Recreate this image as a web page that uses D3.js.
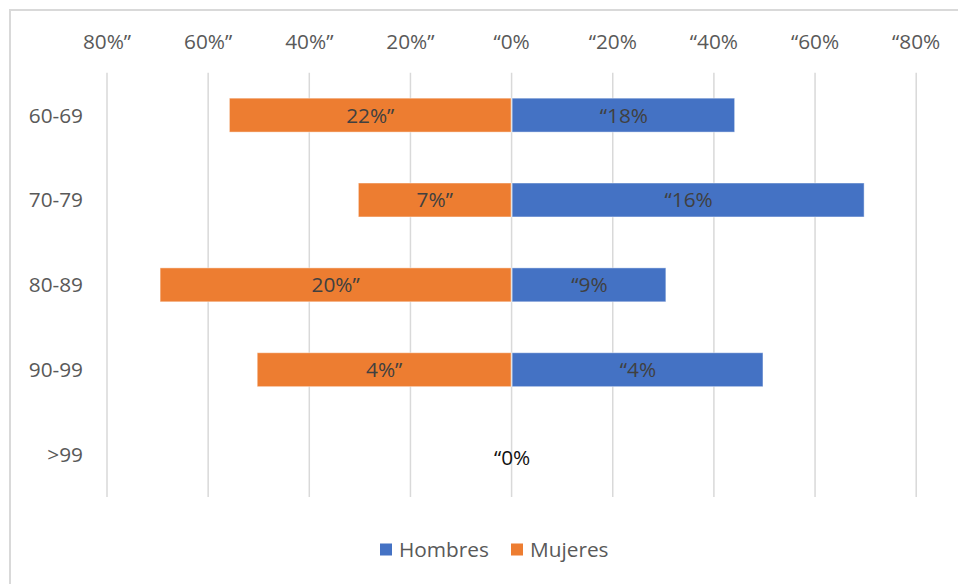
<!DOCTYPE html>
<html>
<head>
<meta charset="utf-8">
<script src="https://cdn.jsdelivr.net/npm/d3@7"></script>
<style>
  html, body { margin: 0; padding: 0; background: #fff; }
  svg { display: block; font-family: "Open Sans", "Segoe UI", sans-serif; }
</style>
</head>
<body>
<svg id="chart" width="958" height="584"></svg>
<script>
// ---- data ----
const categories = ["60-69", "70-79", "80-89", "90-99", ">99"];
const hombres = [44.2, 69.8, 30.6, 49.8, 0];
const mujeres = [55.7, 30.2, 69.4, 50.2, 0];
const hombresLabels = ["\u201C18%", "\u201C16%", "\u201C9%", "\u201C4%", "\u201C0%"];
const mujeresLabels = ["22%\u201D", "7%\u201D", "20%\u201D", "4%\u201D", ""];
const tickValues = [-80, -60, -40, -20, 0, 20, 40, 60, 80];
const tickLabels = ["80%\u201D", "60%\u201D", "40%\u201D", "20%\u201D", "\u201C0%", "\u201C20%", "\u201C40%", "\u201C60%", "\u201C80%"];
const seriesNames = ["Hombres", "Mujeres"];
const seriesColors = ["#4472C4", "#ED7D31"];

// ---- layout ----
const FS = "20.8px";
const svg = d3.select("#chart");
const plotTop = 72.7, plotBottom = 497;
const x = d3.scaleLinear().domain([-80, 80]).range([106.5, 915.7]);
const y = d3.scaleBand().domain(categories).range([plotTop, plotBottom])
  .paddingInner(0.6).paddingOuter(0.3);

// chart border (left + top visible)
svg.append("rect")
  .attr("x", 10).attr("y", 10).attr("width", 1000).attr("height", 1000)
  .attr("fill", "none").attr("stroke", "#d9d9d9").attr("stroke-width", 2);

// gridlines + tick labels via axis
const axis = d3.axisTop(x)
  .tickValues(tickValues)
  .tickSize(-(plotBottom - plotTop))
  .tickFormat((d, i) => tickLabels[i]);
const gAxis = svg.append("g")
  .attr("transform", `translate(0,${plotTop})`)
  .call(axis);
gAxis.select(".domain").remove();
gAxis.selectAll(".tick line").attr("stroke", "#d9d9d9").attr("stroke-width", 1.5);
gAxis.selectAll(".tick text")
  .attr("y", 48.5 - plotTop).attr("dy", 0)
  .attr("fill", "#595959")
  .style("font-size", FS)
  .style("font-family", "'Open Sans', sans-serif");

// category labels
svg.append("g").selectAll("text")
  .data(categories).join("text")
  .attr("x", 83)
  .attr("y", d => y(d) + y.bandwidth() / 2 + 7.5)
  .attr("text-anchor", "end")
  .attr("fill", "#595959")
  .style("font-size", FS)
  .text(d => d);

// bars
const rows = categories.map((c, i) => ({ c, h: hombres[i], m: mujeres[i], hl: hombresLabels[i], ml: mujeresLabels[i] }));

svg.append("g").selectAll("rect")
  .data(rows.filter(r => r.m > 0)).join("rect")
  .attr("x", d => x(-d.m))
  .attr("y", d => y(d.c))
  .attr("width", d => x(0) - x(-d.m))
  .attr("height", y.bandwidth())
  .attr("fill", seriesColors[1])
  .attr("stroke", "rgba(255,255,255,0.45)").attr("stroke-width", 1);

svg.append("g").selectAll("rect")
  .data(rows.filter(r => r.h > 0)).join("rect")
  .attr("x", x(0) + 1)
  .attr("y", d => y(d.c))
  .attr("width", d => x(d.h) - x(0) - 1)
  .attr("height", y.bandwidth())
  .attr("fill", seriesColors[0])
  .attr("stroke", "rgba(255,255,255,0.45)").attr("stroke-width", 1);

// bar labels
svg.append("g").selectAll("text")
  .data(rows.filter(r => r.ml)).join("text")
  .attr("x", d => (x(-d.m) + x(0)) / 2)
  .attr("y", d => y(d.c) + y.bandwidth() / 2 + 7.5)
  .attr("text-anchor", "middle")
  .attr("fill", "#404040")
  .style("font-size", FS)
  .text(d => d.ml);

svg.append("g").selectAll("text")
  .data(rows).join("text")
  .attr("x", d => (x(0) + x(d.h)) / 2 + 1)
  .attr("y", d => y(d.c) + y.bandwidth() / 2 + (d.h > 0 ? 7.5 : 10))
  .attr("text-anchor", "middle")
  .attr("fill", d => d.h > 0 ? "#404040" : "#111")
  .style("font-size", FS)
  .text(d => d.hl);

// legend
const legend = svg.append("g");
const legendItems = [{ name: seriesNames[0], color: seriesColors[0], x: 380 }, { name: seriesNames[1], color: seriesColors[1], x: 511 }];
legendItems.forEach(it => {
  legend.append("rect").attr("x", it.x).attr("y", 543.5).attr("width", 12).attr("height", 12).attr("fill", it.color);
  legend.append("text").attr("x", it.x + 19).attr("y", 557)
    .attr("fill", "#595959").style("font-size", FS).text(it.name);
});
</script>
</body>
</html>
